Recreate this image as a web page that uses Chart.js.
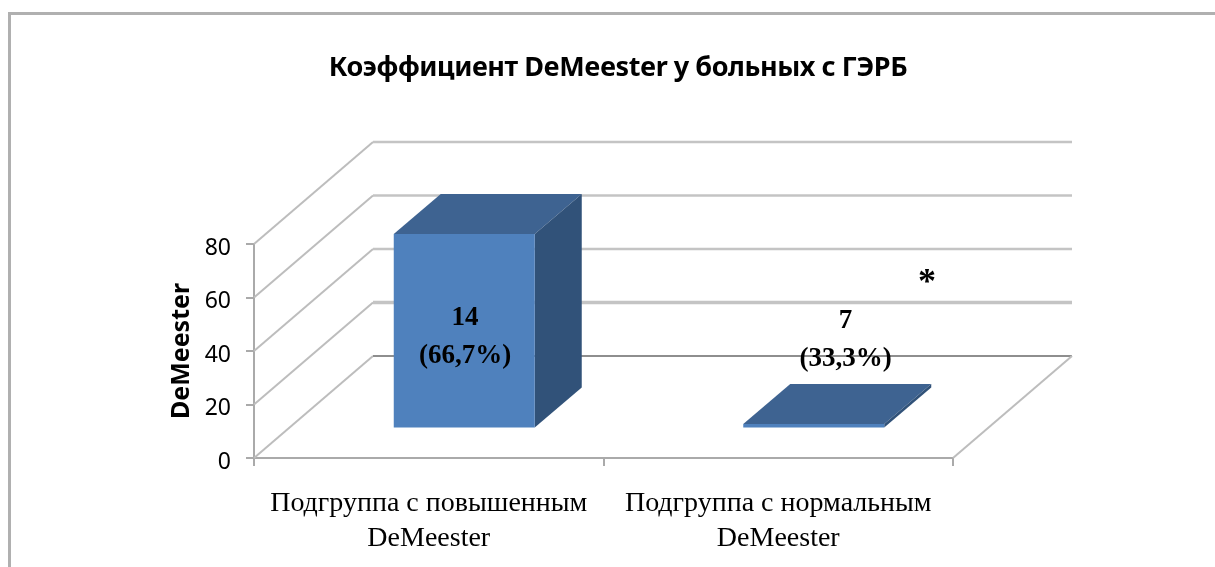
<!DOCTYPE html>
<html><head><meta charset="utf-8">
<style>html,body{margin:0;padding:0;background:#fff;overflow:hidden}canvas{display:block}</style>
<script src="https://cdn.jsdelivr.net/npm/chart.js@4"></script>
</head><body><div style="width:1215px;height:567px"><canvas id="c" width="1215" height="567"></canvas></div>
<script>
const categories=[["Подгруппа с повышенным","DeMeester"],["Подгруппа с нормальным","DeMeester"]];
const barValues=[72.7,1.7];
const barLabels=[["14","(66,7%)"],["7","(33,3%)"]];
const yTicks=[0,20,40,60,80];
const chartTitle="Коэффициент DeMeester у больных с ГЭРБ";
const axisTitle="DeMeester";
const marker="*";

const DEPTH={x:119,y:-102}, BAR={x:35.5,y:-29.5,dx:47,dy:-40};
const three={id:'three',
 beforeDraw(ch){const c=ch.ctx;c.save();c.fillStyle='#fff';c.fillRect(0,0,ch.width,ch.height);
  c.fillStyle='#b0b0b0';c.fillRect(8,12,1207,3);c.fillRect(8,12,3,555);c.restore();},
 beforeDatasetsDraw(ch){const c=ch.ctx,x=ch.scales.x,y=ch.scales.y;c.save();
  yTicks.forEach(v=>{const p=y.getPixelForValue(v);
   c.strokeStyle='#bdbdbd';c.lineWidth=2;c.beginPath();c.moveTo(x.left,p);c.lineTo(x.left+DEPTH.x,p+DEPTH.y);c.stroke();
   c.strokeStyle=v===0?'#8e8e8e':'#c4c4c4';c.lineWidth=v===0?2:(v===20?3.5:2.5);c.beginPath();c.moveTo(x.left+DEPTH.x,p+DEPTH.y);c.lineTo(x.right+DEPTH.x,p+DEPTH.y);c.stroke();});
  const p0=y.getPixelForValue(0);c.strokeStyle='#bdbdbd';c.lineWidth=2;c.beginPath();c.moveTo(x.right,p0);c.lineTo(x.right+DEPTH.x,p0+DEPTH.y);c.stroke();
  c.restore();
  c.save();c.translate(BAR.x,BAR.y);
  ch.getDatasetMeta(0).data.forEach(el=>{const l=el.x-el.width/2,r=el.x+el.width/2,t=el.y,b=el.base;
   c.fillStyle='#3e6391';c.beginPath();c.moveTo(l,t);c.lineTo(l+BAR.dx,t+BAR.dy);c.lineTo(r+BAR.dx,t+BAR.dy);c.lineTo(r,t);c.closePath();c.fill();
   c.fillStyle='#315279';c.beginPath();c.moveTo(r,t);c.lineTo(r+BAR.dx,t+BAR.dy);c.lineTo(r+BAR.dx,b+BAR.dy);c.lineTo(r,b);c.closePath();c.fill();});
 },
 afterDatasetsDraw(ch){const c=ch.ctx;c.restore();c.save();
  c.fillStyle='#000';c.textAlign='center';c.textBaseline='middle';
  c.font='bold 27px "Noto Sans"';
  c.letterSpacing='-0.45px';
  c.fillText(chartTitle,618,68);
  c.letterSpacing='0px';
  c.font='bold 27px "Liberation Serif"';
  const pos=[[465,318,356],[845.5,321,359]];
  barLabels.forEach((ls,i)=>{c.fillText(ls[0],pos[i][0],pos[i][1]);c.fillText(ls[1],pos[i][0],pos[i][2]);});
  c.font='bold 36px "Liberation Serif"';
  c.fillText(marker,927,284);
  c.restore();}
};
new Chart(document.getElementById('c'),{type:'bar',
 data:{labels:categories,datasets:[{data:barValues,backgroundColor:'#4f81bd',borderWidth:0,barPercentage:1,categoryPercentage:0.4034}]},
 options:{responsive:false,animation:false,
  layout:{padding:{left:0,right:262,top:244,bottom:0}},
  plugins:{legend:{display:false},tooltip:{enabled:false},title:{display:false}},
  scales:{
   x:{offset:true,afterFit(s){s.height=109},
      grid:{drawOnChartArea:false,color:'#aaa',lineWidth:2,tickLength:8},border:{color:'#aaa',width:2},
      ticks:{color:'#000',font:{family:'"Liberation Serif"',size:28,lineHeight:1.25},maxRotation:0,padding:20,autoSkip:false}},
   y:{min:0,max:80,afterFit(s){s.width=254},
      afterBuildTicks(s){s.ticks=yTicks.map(v=>({value:v}))},
      grid:{drawOnChartArea:false,color:'#aaa',lineWidth:2,tickLength:8},border:{color:'#aaa',width:2},
      ticks:{color:'#000',font:{family:'"Noto Sans"',size:23},padding:15,labelOffset:4},
      title:{display:true,text:axisTitle,color:'#000',font:{family:'"Noto Sans"',weight:'bold',size:25},padding:{top:167,bottom:0}}}
  }},
 plugins:[three]});
</script></body></html>
